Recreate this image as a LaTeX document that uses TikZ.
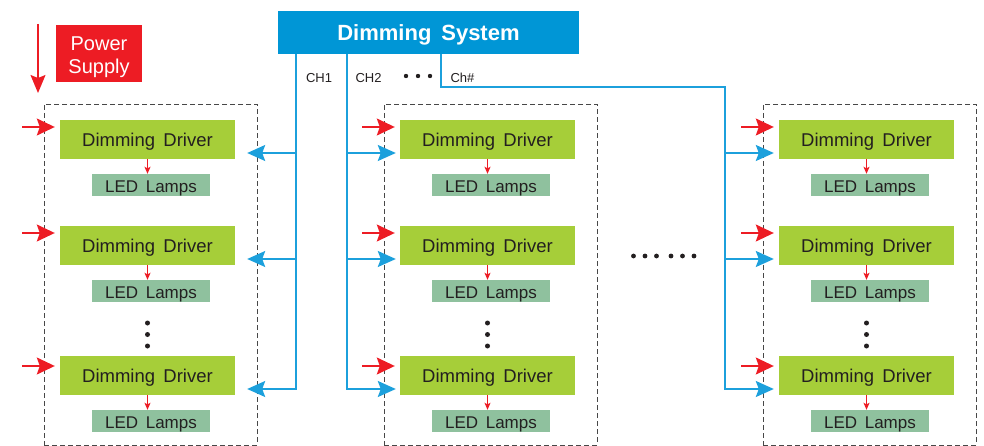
\documentclass[tikz,border=0pt]{standalone}
\usepackage{fontspec}
\setmainfont{Liberation Sans}
\usetikzlibrary{arrows.meta}
\definecolor{sysblue}{RGB}{0,150,214}
\definecolor{linkblue}{RGB}{28,160,220}
\definecolor{psred}{RGB}{237,28,36}
\definecolor{drvgreen}{RGB}{166,206,57}
\definecolor{ledgreen}{RGB}{143,193,158}
\definecolor{ink}{RGB}{35,31,32}
\newcommand\wordgap{\spaceskip=0.45em plus 0.1em\relax}

\begin{document}
\begin{tikzpicture}[x=1pt, y=-1pt,
  sysbox/.style = {fill=sysblue, text=white, minimum width=301pt, minimum height=43pt, inner sep=0pt, text height=17pt, text depth=0pt, font={\fontsize{22}{24}\selectfont\bfseries\wordgap}},
  psbox/.style = {fill=psred, text=white, align=center, minimum width=86pt, minimum height=57pt, inner sep=0pt, font={\fontsize{20}{23}\selectfont}},
  driver/.style = {fill=drvgreen, text=ink, minimum width=175pt, minimum height=39pt, inner sep=0pt, text height=14.5pt, text depth=0pt, font={\fontsize{18.5}{20}\selectfont\wordgap}},
  lamp/.style = {fill=ledgreen, text=ink, minimum width=118pt, minimum height=22pt, inner sep=0pt, text height=15pt, text depth=0pt, font={\fontsize{17}{19}\selectfont\wordgap}},
  group/.style = {draw=black!72, dash pattern=on 5pt off 3pt, line width=0.9pt, minimum width=213pt, minimum height=341pt, inner sep=0pt},
  chan/.style = {text=ink, inner sep=0pt, font={\fontsize{13}{15}\selectfont}},
  power/.style = {color=psred, line width=1.4pt, -{Stealth[length=18pt,width=17pt,inset=3pt]}},
  signal/.style = {color=linkblue, line width=1.6pt, -{Stealth[length=18pt,width=16pt,inset=3pt]}},
  feed/.style = {color=psred, line width=1pt, -{Stealth[length=7pt,width=6pt,inset=1.5pt]}},
  dot/.style = {fill=ink}
]
\useasboundingbox (0,0) rectangle (984,446);

% top
\node[sysbox] (sys) at (428.5,32.5) {Dimming System};
\node[psbox] (ps) at (99,53.5) {\rule{0pt}{21.5pt}Power\\Supply};
\coordinate (psTop) at (38,24);
\coordinate (psTip) at (38,93);

% driver groups
\node[group] (grpA) at (150.5,274.5) {};
\node[group] (grpB) at (490.5,274.5) {};
\node[group] (grpC) at (869.5,274.5) {};

\node[driver] (drvA1) at (147.5,139.5) {Dimming Driver};
\node[driver] (drvA2) at (147.5,245.5) {Dimming Driver};
\node[driver] (drvA3) at (147.5,375.5) {Dimming Driver};
\node[driver] (drvB1) at (487.5,139.5) {Dimming Driver};
\node[driver] (drvB2) at (487.5,245.5) {Dimming Driver};
\node[driver] (drvB3) at (487.5,375.5) {Dimming Driver};
\node[driver] (drvC1) at (866.5,139.5) {Dimming Driver};
\node[driver] (drvC2) at (866.5,245.5) {Dimming Driver};
\node[driver] (drvC3) at (866.5,375.5) {Dimming Driver};

\node[lamp] (lampA1) at (151,185) {LED Lamps};
\node[lamp] (lampA2) at (151,291) {LED Lamps};
\node[lamp] (lampA3) at (151,421) {LED Lamps};
\node[lamp] (lampB1) at (491,185) {LED Lamps};
\node[lamp] (lampB2) at (491,291) {LED Lamps};
\node[lamp] (lampB3) at (491,421) {LED Lamps};
\node[lamp] (lampC1) at (870,185) {LED Lamps};
\node[lamp] (lampC2) at (870,291) {LED Lamps};
\node[lamp] (lampC3) at (870,421) {LED Lamps};

% channel labels
\node[chan] (ch1) at (319,78) {CH1};
\node[chan] (ch2) at (368.5,78) {CH2};
\node[chan] (chN) at (462.5,78) {Ch\#};

% power inputs
\coordinate (inA1) at (22,127);
\coordinate (inA2) at (22,233);
\coordinate (inA3) at (22,366);
\coordinate (inB1) at (362,127);
\coordinate (inB2) at (362,233);
\coordinate (inB3) at (362,366);
\coordinate (inC1) at (741,127);
\coordinate (inC2) at (741,233);
\coordinate (inC3) at (741,366);

% channel taps
\coordinate (tapA1) at (296,153);
\coordinate (tapA2) at (296,259);
\coordinate (tapA3) at (296,389);
\coordinate (tapB1) at (347,153);
\coordinate (tapB2) at (347,259);
\coordinate (tapB3) at (347,389);
\coordinate (outC) at (441,87);
\coordinate (kneeC) at (725,87);
\coordinate (tapC1) at (725,153);
\coordinate (tapC2) at (725,259);
\coordinate (tapC3) at (725,389);

\draw[power, -{Stealth[length=18pt,width=15pt,inset=3pt]}] (psTop) -- (psTip);

\begin{scope}[power, shorten >=5pt]
\path (inA1) edge (inA1 -| drvA1.west);
\path (inA2) edge (inA2 -| drvA2.west);
\path (inA3) edge (inA3 -| drvA3.west);
\path (inB1) edge (inB1 -| drvB1.west);
\path (inB2) edge (inB2 -| drvB2.west);
\path (inB3) edge (inB3 -| drvB3.west);
\path (inC1) edge (inC1 -| drvC1.west);
\path (inC2) edge (inC2 -| drvC2.west);
\path (inC3) edge (inC3 -| drvC3.west);
\end{scope}

\begin{scope}[feed]
\path (drvA1.south) edge (drvA1.south |- lampA1.north);
\path (drvA2.south) edge (drvA2.south |- lampA2.north);
\path (drvA3.south) edge (drvA3.south |- lampA3.north);
\path (drvB1.south) edge (drvB1.south |- lampB1.north);
\path (drvB2.south) edge (drvB2.south |- lampB2.north);
\path (drvB3.south) edge (drvB3.south |- lampB3.north);
\path (drvC1.south) edge (drvC1.south |- lampC1.north);
\path (drvC2.south) edge (drvC2.south |- lampC2.north);
\path (drvC3.south) edge (drvC3.south |- lampC3.north);
\end{scope}

\begin{scope}[signal]
\draw[shorten >=12pt] (sys.south -| tapA1) |- (tapA3 -| drvA3.east);
\path[shorten >=12pt] (tapA1) edge (tapA1 -| drvA1.east);
\path[shorten >=12pt] (tapA2) edge (tapA2 -| drvA2.east);
\draw[shorten >=4pt] (sys.south -| tapB1) |- (tapB3 -| drvB3.west);
\path[shorten >=4pt] (tapB1) edge (tapB1 -| drvB1.west);
\path[shorten >=4pt] (tapB2) edge (tapB2 -| drvB2.west);
\draw[shorten >=5pt] (sys.south -| outC) -- (outC) -- (kneeC) |- (tapC3 -| drvC3.west);
\path[shorten >=5pt] (tapC1) edge (tapC1 -| drvC1.west);
\path[shorten >=5pt] (tapC2) edge (tapC2 -| drvC2.west);
\end{scope}

% dots
\fill[dot] (406,76) circle (2.2pt) (418,76) circle (2.2pt) (430,76) circle (2.2pt);
\fill[dot] (147.5,323) circle (2.5pt) (147.5,334.5) circle (2.5pt) (147.5,346) circle (2.5pt);
\fill[dot] (487.5,323) circle (2.5pt) (487.5,334.5) circle (2.5pt) (487.5,346) circle (2.5pt);
\fill[dot] (866.5,323) circle (2.5pt) (866.5,334.5) circle (2.5pt) (866.5,346) circle (2.5pt);
\fill[dot] (633.5,256) circle (2.4pt) (645,256) circle (2.4pt) (656.5,256) circle (2.4pt)
           (671,256) circle (2.4pt) (682.5,256) circle (2.4pt) (694,256) circle (2.4pt);
\end{tikzpicture}
\end{document}
